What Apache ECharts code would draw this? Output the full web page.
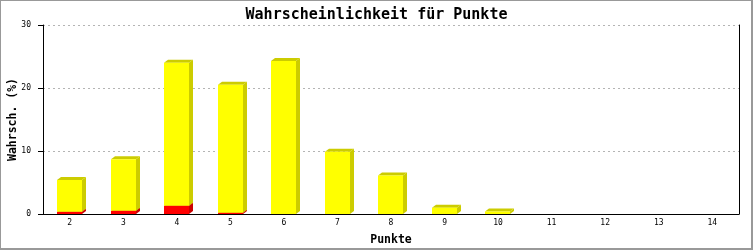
<!DOCTYPE html>
<html>
<head>
<meta charset="utf-8">
<script src="https://cdn.jsdelivr.net/npm/echarts@6/dist/echarts.min.js"></script>
<style>html,body{margin:0;padding:0;background:#fff;}#c{width:753px;height:250px;}</style>
</head>
<body>
<div id="c"></div>
<script>
var categories = ['2','3','4','5','6','7','8','9','10','11','12','13','14'];
var redValues = [0.35, 0.5, 1.3, 0.2, 0, 0, 0, 0, 0, 0, 0, 0, 0];
var yellowValues = [5.05, 8.2, 22.7, 20.3, 24.3, 9.9, 6.1, 1.0, 0.4, 0, 0, 0, 0];
var yTicks = [0, 10, 20, 30];

var chart = echarts.init(document.getElementById('c'), null, {renderer: 'canvas'});
var FONT = 'DejaVu Sans Mono';
var DX = 4, DY = 3;

function box(x0, x1, yb, yt, front, dark) {
  return [
    {type: 'polygon', shape: {points: [[x1, yb], [x1 + DX, yb - DY], [x1 + DX, yt - DY], [x1, yt]]}, style: {fill: dark}},
    {type: 'polygon', shape: {points: [[x0, yt], [x0 + DX, yt - DY], [x1 + DX, yt - DY], [x1, yt]]}, style: {fill: dark}},
    {type: 'rect', shape: {x: x0, y: yt, width: x1 - x0, height: yb - yt}, style: {fill: front}}
  ];
}

function makeRender(which) {
  return function (params, api) {
    var i = api.value(0);
    var r = api.value(1);
    var y = api.value(2);
    var bw = api.size([1, 0])[0] * 0.47;
    var c = api.coord([i, 0]);
    var x0 = Math.round(c[0] - bw / 2), x1 = x0 + Math.round(bw);
    var children;
    if (which === 'red') {
      if (r <= 0) return null;
      var yb = api.coord([i, 0])[1], yt = api.coord([i, r])[1];
      children = box(x0, x1, yb, yt, '#ff0000', '#cc0000');
    } else {
      if (y <= 0) return null;
      var yb2 = api.coord([i, r])[1], yt2 = api.coord([i, r + y])[1];
      children = box(x0, x1, yb2, yt2, '#ffff00', '#cccc00');
    }
    return {type: 'group', children: children};
  };
}

var data = categories.map(function (c, i) { return [i, redValues[i], yellowValues[i]]; });

chart.setOption({
  animation: false,
  backgroundColor: '#fff',
  title: {
    text: 'Wahrscheinlichkeit für Punkte',
    left: 'center', top: 3,
    textStyle: {fontFamily: FONT, fontSize: 15, fontWeight: 'bold', color: '#000'}
  },
  graphic: [
    {type: 'rect', z: -10, silent: true, shape: {x: 0, y: 0, width: 753, height: 250}, style: {fill: '#999999'}},
    {type: 'rect', z: -9, silent: true, shape: {x: 1, y: 1, width: 750, height: 247}, style: {fill: '#ffffff'}}
  ],
  grid: {left: 43, right: 14, top: 25, bottom: 36, containLabel: false, outerBoundsMode: 'none'},
  xAxis: {
    type: 'category', data: categories, boundaryGap: true,
    name: 'Punkte', nameLocation: 'middle', nameGap: 20, nameMoveOverlap: false,
    nameTextStyle: {fontFamily: FONT, fontSize: 11.5, fontWeight: 'bold', color: '#000'},
    axisLine: {lineStyle: {color: '#000', width: 1}},
    axisTick: {show: false},
    axisLabel: {fontFamily: FONT, fontSize: 8, color: '#000', margin: 5},
    splitLine: {show: false}
  },
  yAxis: [{
    type: 'value', min: yTicks[0], max: yTicks[yTicks.length - 1], interval: 10,
    name: 'Wahrsch. (%)', nameLocation: 'middle', nameGap: 24, nameMoveOverlap: false,
    nameTextStyle: {fontFamily: FONT, fontSize: 11.5, fontWeight: 'bold', color: '#000'},
    axisLine: {show: true, lineStyle: {color: '#000', width: 1}},
    axisTick: {show: true, length: 5, lineStyle: {color: '#000'}},
    axisLabel: {fontFamily: FONT, fontSize: 8, color: '#000', margin: 12},
    splitLine: {show: true, lineStyle: {color: '#b4b4b4', type: [2, 3], width: 1}}
  }, {
    type: 'value', position: 'right', min: yTicks[0], max: yTicks[yTicks.length - 1], interval: 10,
    axisLine: {show: true, lineStyle: {color: '#000', width: 1}},
    axisTick: {show: false}, axisLabel: {show: false}, splitLine: {show: false}
  }],
  series: [
    {type: 'custom', name: 'red', renderItem: makeRender('red'), data: data, encode: {x: 0, y: [1]}, z: 2},
    {type: 'custom', name: 'yellow', renderItem: makeRender('yellow'), data: data, encode: {x: 0, y: [2]}, z: 3}
  ]
});
</script>
</body>
</html>
